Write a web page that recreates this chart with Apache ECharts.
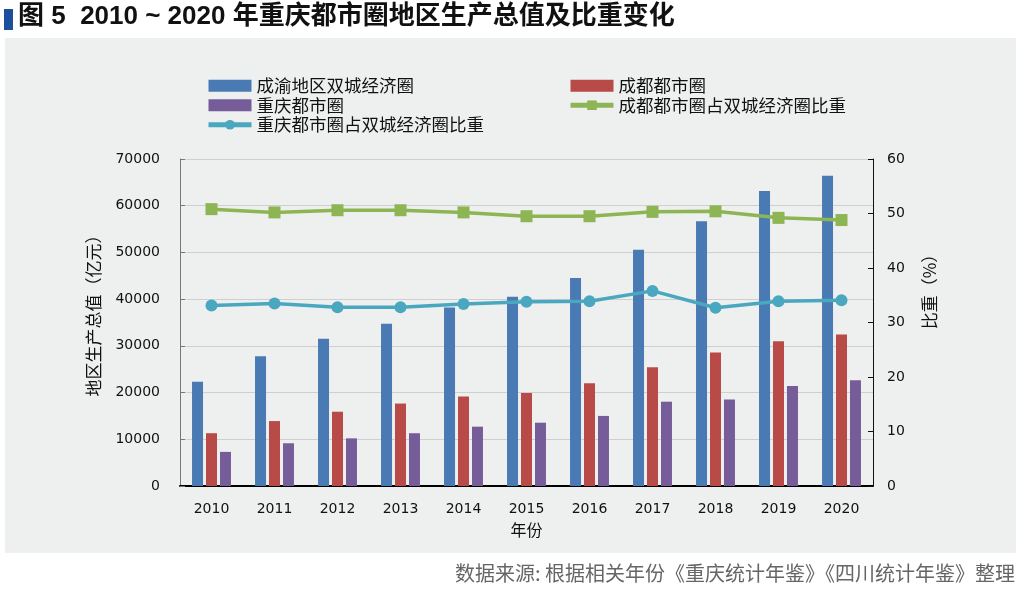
<!DOCTYPE html>
<html><head><meta charset="utf-8">
<script src="https://cdn.jsdelivr.net/npm/echarts@6/dist/echarts.min.js"></script>
<style>html,body{margin:0;padding:0;background:#fff}#c{width:1024px;height:589px}</style>
</head><body><div id="c"></div>
<script>
const years = ['2010','2011','2012','2013','2014','2015','2016','2017','2018','2019','2020'];
const gdpCY = [22300, 27800, 31500, 34750, 38200, 40500, 44500, 50600, 56700, 63150, 66400];
const gdpCD = [11300, 13900, 15900, 17650, 19150, 19900, 22000, 25400, 28600, 31000, 32450];
const gdpCQ = [7300, 9150, 10200, 11300, 12700, 13550, 15000, 18050, 18500, 21400, 22650];
const shareCD = [50.8, 50.2, 50.6, 50.6, 50.2, 49.5, 49.5, 50.3, 50.4, 49.2, 48.8];
const shareCQ = [33.1, 33.5, 32.8, 32.8, 33.4, 33.8, 33.9, 35.8, 32.7, 33.9, 34.1];
const names = ['成渝地区双城经济圈','成都都市圈','重庆都市圈','成都都市圈占双城经济圈比重','重庆都市圈占双城经济圈比重'];
const colors = ['#4a7ab4','#b84b48','#765c98','#8db554','#4aa7c0'];

const chart = echarts.init(document.getElementById('c'));
const lblFont = {fontFamily:'DejaVu Sans', fontSize:14, color:'#111'};
const cjk = '"Noto Sans CJK SC"';
const legendText = {fontFamily:cjk, fontSize:17.5, color:'#111'};
chart.setOption({
  animation:false,
  backgroundColor:'#ffffff',
  graphic:[
    {type:'rect', shape:{x:5,y:38,width:1011,height:515}, style:{fill:'#eeefef'}, z:-10},
    {type:'rect', shape:{x:4,y:9,width:9,height:21}, style:{fill:'#1c4f9c'}},
    {type:'text', left:18, top:4, style:{text:'图 5  2010 ~ 2020 年重庆都市圈地区生产总值及比重变化', font:'bold 26px "Liberation Sans", '+cjk, fill:'#111'}},
    {type:'text', right:9, top:563, style:{text:'数据来源: 根据相关年份《重庆统计年鉴》《四川统计年鉴》整理', font:'20px '+cjk, fill:'#666'}}
  ],
  legend:[
    {data:[{name:names[0],icon:'rect'},{name:names[2],icon:'rect'},names[4]], orient:'vertical', left:201, top:72,
     itemWidth:43, itemHeight:12, itemGap:2, textStyle:legendText, lineStyle:{width:5}},
    {data:[{name:names[1],icon:'rect'},names[3]], orient:'vertical', left:563, top:72,
     itemWidth:43, itemHeight:12, itemGap:2, textStyle:legendText, lineStyle:{width:5}}
  ],
  grid:{left:180, right:151, top:159, bottom:103},
  xAxis:{type:'category', data:years, name:'年份', nameLocation:'middle', nameGap:36,
    nameTextStyle:{fontFamily:cjk, fontSize:16, color:'#111'},
    axisLine:{lineStyle:{color:'#000', width:2}},
    axisTick:{inside:true, length:5, lineStyle:{color:'#000'}},
    axisLabel:Object.assign({margin:16}, lblFont)},
  yAxis:[
    {type:'value', min:0, max:70000, interval:10000, name:'地区生产总值（亿元）', nameLocation:'middle', nameGap:78,
     nameTextStyle:{fontFamily:cjk, fontSize:17, color:'#111', padding:[0,0,0,22]},
     axisLine:{show:true, lineStyle:{color:'#777'}},
     axisTick:{show:true, inside:true, length:5, lineStyle:{color:'#777'}},
     axisLabel:Object.assign({margin:20, formatter:v=>String(v)}, lblFont),
     splitLine:{lineStyle:{color:'#cfcfcf', width:1}}},
    {type:'value', min:0, max:60, interval:10, name:'比重（%）', nameLocation:'middle', nameGap:48, nameRotate:90,
     nameTextStyle:{fontFamily:cjk, fontSize:17, color:'#111', padding:[0,0,0,70]},
     axisLine:{show:true, lineStyle:{color:'#111'}},
     axisTick:{show:true, inside:true, length:5, lineStyle:{color:'#111'}},
     axisLabel:Object.assign({margin:14}, lblFont),
     splitLine:{show:false}}
  ],
  series:[
    {name:names[0], type:'bar', data:gdpCY, barWidth:11, barGap:'27%', itemStyle:{color:colors[0]}},
    {name:names[1], type:'bar', data:gdpCD, barWidth:11, barGap:'27%', itemStyle:{color:colors[1]}},
    {name:names[2], type:'bar', data:gdpCQ, barWidth:11, barGap:'27%', itemStyle:{color:colors[2]}},
    {name:names[3], type:'line', yAxisIndex:1, data:shareCD, symbol:'rect', symbolSize:12,
     lineStyle:{color:colors[3], width:3.5}, itemStyle:{color:colors[3]}},
    {name:names[4], type:'line', yAxisIndex:1, data:shareCQ, symbol:'circle', symbolSize:12,
     lineStyle:{color:colors[4], width:3.5}, itemStyle:{color:colors[4]}}
  ]
});
</script></body></html>
